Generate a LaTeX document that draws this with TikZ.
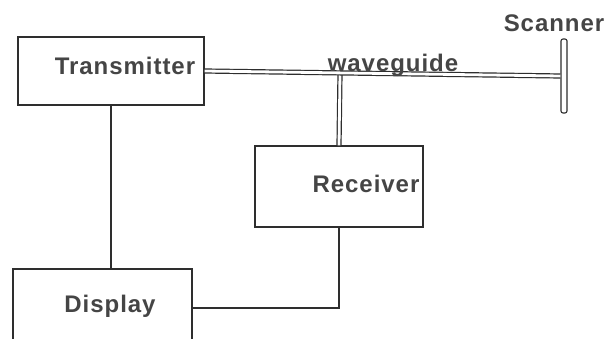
\documentclass[tikz,border=0pt]{standalone}
\usepackage{fontspec}
\newfontfamily\lblfont[LetterSpace=4]{Liberation Sans}
\usetikzlibrary{calc}
\definecolor{ink}{HTML}{2E2E2E}
\definecolor{txtgray}{HTML}{454545}
\tikzset{
  unit/.style={draw=ink, line width=1.3pt, inner sep=0pt},
  lbl/.style={text=txtgray, font=\lblfont\bfseries\fontsize{24}{28}\selectfont, inner sep=0pt, anchor=base},
  wire/.style={draw=ink, line width=1.3pt},
  guide/.style={draw=ink, line width=1.2pt, double=white, double distance=2.8pt}
}
\begin{document}
\begin{tikzpicture}[x=1pt, y=-1pt]
            \clip (0,0) rectangle (610,339);
            \fill[white] (0,0) rectangle (610,339);

            \node[unit, minimum width=186pt, minimum height=68pt] (tx) at (111,71) {};
            \node[unit, minimum width=168pt, minimum height=81pt] (rx) at (339,186.5) {};
            \node[unit, minimum width=179pt, minimum height=78pt] (dsp) at (102.5,308) {};
            \node[draw=ink, line width=1.1pt, rounded corners=2pt, minimum width=6pt, minimum height=74pt, inner sep=0pt] (scan) at (564,76) {};

            \node[lbl] (txlbl) at (125,75) {Transmitter};
            \node[lbl] (rxlbl) at (366,193) {Receiver};
            \node[lbl] (dsplbl) at (110,312) {Display};
            \node[lbl] (scanlbl) at (554,32) {Scanner};

            % waveguide from transmitter to scanner, branch down to receiver
            \coordinate (tap) at ($(tx.east)!(rx.north)!(scan.west)$);
            \draw[guide] (rx.north) -- (tap);
            \draw[guide] (tx.east) -- (scan.west);
            \node[lbl] (wglbl) at (393,72) {waveguide};

            \draw[wire] (tx.south) -- (tx.south |- dsp.north);
            \draw[wire] (rx.south) |- (dsp.east);
\end{tikzpicture}
\end{document}
